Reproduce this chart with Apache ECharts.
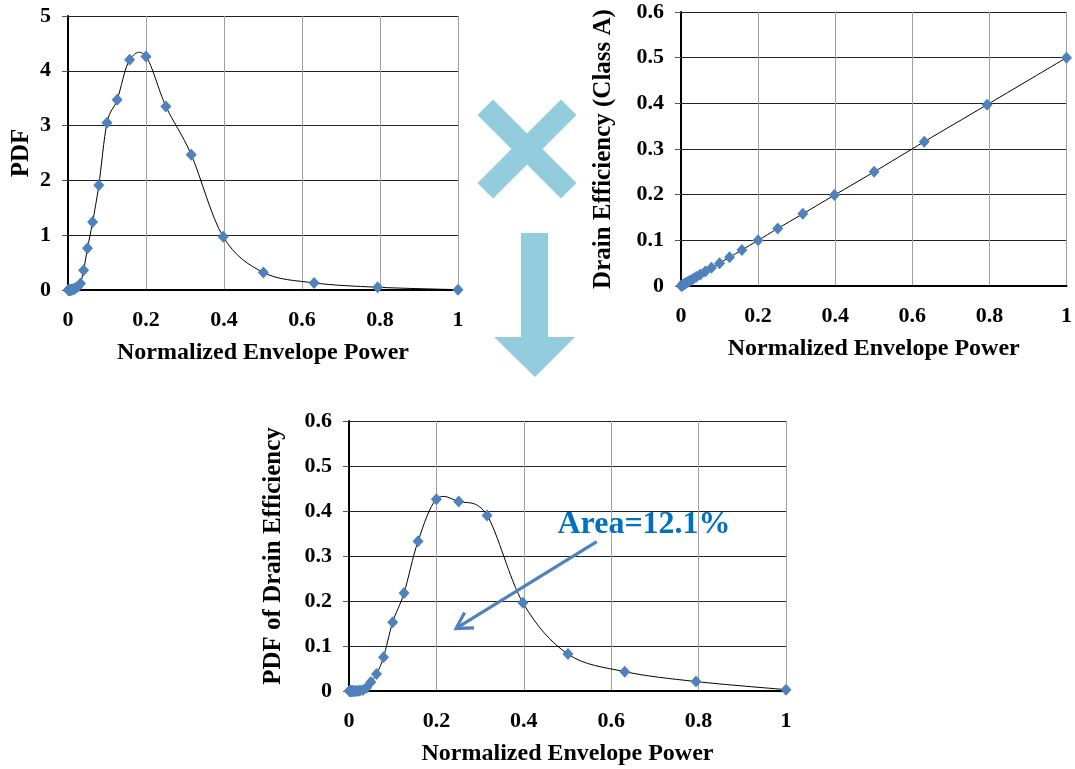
<!DOCTYPE html>
<html>
<head>
<meta charset="utf-8">
<script src="https://cdn.jsdelivr.net/npm/echarts@6/dist/echarts.min.js"></script>
<style>
  html, body { margin: 0; padding: 0; background: #fff; }
  #chart { width: 1075px; height: 769px; }
</style>
</head>
<body>
<div id="chart"></div>
<script>
// Normalized envelope power samples (1 dB steps)
const power = [0.001, 0.0013, 0.0016, 0.002, 0.0025, 0.003, 0.004, 0.005, 0.006, 0.008,
  0.01, 0.013, 0.016, 0.02, 0.025, 0.032, 0.04, 0.05, 0.063, 0.079,
  0.1, 0.126, 0.158, 0.2, 0.251, 0.316, 0.398, 0.501, 0.631, 0.794, 1];

// PDF of the envelope power
const pdf = [0, 0, 0, 0, 0, 0, 0, 0.001, 0.002, 0.004,
  0.006, 0.012, 0.02, 0.035, 0.06, 0.12, 0.36, 0.76, 1.24, 1.91,
  3.05, 3.47, 4.2, 4.26, 3.35, 2.47, 0.97, 0.32, 0.13, 0.05, 0.006];

// Class A drain efficiency at each power level
const efficiency = [0.0005, 0.0006, 0.0008, 0.001, 0.0013, 0.0016, 0.002, 0.0025, 0.003, 0.004,
  0.005, 0.0065, 0.008, 0.01, 0.0125, 0.016, 0.02, 0.025, 0.032, 0.04,
  0.05, 0.063, 0.079, 0.1, 0.126, 0.158, 0.199, 0.25, 0.316, 0.397, 0.5];

// PDF weighted by drain efficiency
const pdfEfficiency = [0, 0, 0, 0, 0, 0, 0, 0, 0, 0,
  0, 0, 0, 0, 0.001, 0.002, 0.007, 0.02, 0.038, 0.075,
  0.153, 0.218, 0.333, 0.426, 0.421, 0.39, 0.196, 0.082, 0.043, 0.021, 0.003];

const xTitle = 'Normalized Envelope Power';
const yTitles = ['PDF', 'Drain Efficiency (Class A)', 'PDF of Drain Efficiency'];
const annotation = 'Area=12.1%';

const FONT = "'Liberation Serif', 'Times New Roman', serif";
const MARKER = '#4F81BD';
const SHAPE = '#93CDDD';

function pairs(xs, ys) { return xs.map((x, i) => [x, ys[i]]); }

function xAxis(gridIndex) {
  return {
    type: 'value', gridIndex, min: 0, max: 1, interval: 0.2,
    name: xTitle, nameLocation: 'middle', nameGap: 51,
    nameTextStyle: { fontFamily: FONT, fontWeight: 'bold', fontSize: 24, color: '#000' },
    axisLine: { show: true, onZero: false, lineStyle: { color: '#000', width: 2 } },
    axisTick: { show: false },
    axisLabel: { fontFamily: FONT, fontWeight: 'bold', fontSize: 22, color: '#000', margin: 19 },
    splitLine: { show: true, lineStyle: { color: '#a0a0a0', width: 1 } }
  };
}

function yAxis(gridIndex, max, interval, gap) {
  return {
    type: 'value', gridIndex, min: 0, max, interval,
    name: yTitles[gridIndex], nameLocation: 'middle', nameGap: gap,
    nameTextStyle: { fontFamily: FONT, fontWeight: 'bold', fontSize: 25, color: '#000' },
    axisLine: { show: true, lineStyle: { color: '#000', width: 2 } },
    axisTick: { show: true, length: 6, lineStyle: { color: '#555', width: 1 } },
    axisLabel: { fontFamily: FONT, fontWeight: 'bold', fontSize: 22, color: '#000', margin: 17 },
    splitLine: { show: true, lineStyle: { color: '#222', width: 1 } }
  };
}

// Smoothed curve through the points (cubic Bezier, Catmull-Rom tangents in pixel space)
function curveSeries(i, xs, ys) {
  return {
    type: 'custom', xAxisIndex: i, yAxisIndex: i, data: pairs(xs, ys), z: 2, silent: true,
    renderItem(params, api) {
      if (params.dataIndex !== 0) return null;
      const p = xs.map((x, k) => api.coord([x, ys[k]]));
      let d = 'M' + p[0][0] + ' ' + p[0][1];
      for (let k = 0; k < p.length - 1; k++) {
        const p0 = p[Math.max(k - 1, 0)], p1 = p[k], p2 = p[k + 1], p3 = p[Math.min(k + 2, p.length - 1)];
        const c1 = [p1[0] + (p2[0] - p0[0]) / 6, p1[1] + (p2[1] - p0[1]) / 6];
        const c2 = [p2[0] - (p3[0] - p1[0]) / 6, p2[1] - (p3[1] - p1[1]) / 6];
        d += ' C' + c1[0] + ' ' + c1[1] + ' ' + c2[0] + ' ' + c2[1] + ' ' + p2[0] + ' ' + p2[1];
      }
      return { type: 'path', shape: { pathData: d }, style: { stroke: '#000', lineWidth: 1, fill: null } };
    }
  };
}

function markerSeries(i, xs, ys) {
  return {
    type: 'scatter', xAxisIndex: i, yAxisIndex: i, data: pairs(xs, ys), z: 3,
    symbol: 'diamond', symbolSize: [11, 12], itemStyle: { color: MARKER, opacity: 1 }
  };
}

const chart = echarts.init(document.getElementById('chart'));
chart.setOption({
  animation: false,
  backgroundColor: '#fff',
  grid: [
    { left: 68, top: 16, width: 390, height: 274 },
    { left: 681, top: 12, width: 386, height: 274 },
    { left: 349, top: 421, width: 437, height: 270 }
  ],
  xAxis: [xAxis(0), xAxis(1), xAxis(2)],
  yAxis: [yAxis(0, 5, 1, 34), yAxis(1, 0.6, 0.1, 65), yAxis(2, 0.6, 0.1, 63)],
  series: [
    curveSeries(0, power, pdf), markerSeries(0, power, pdf),
    curveSeries(1, power, efficiency), markerSeries(1, power, efficiency),
    curveSeries(2, power, pdfEfficiency), markerSeries(2, power, pdfEfficiency)
  ]
});

// Annotation arrow placed in the data space of the lower chart
const start = chart.convertToPixel({ gridIndex: 2 }, [0.567, 0.332]);
const tip = chart.convertToPixel({ gridIndex: 2 }, [0.245, 0.139]);
const dx = start[0] - tip[0], dy = start[1] - tip[1];
const len = Math.hypot(dx, dy);
const ux = dx / len, uy = dy / len;
const head = 18, ang = Math.PI / 6;
function rot(a) {
  return [tip[0] + head * (ux * Math.cos(a) - uy * Math.sin(a)),
          tip[1] + head * (ux * Math.sin(a) + uy * Math.cos(a))];
}
const textPos = chart.convertToPixel({ gridIndex: 2 }, [0.477, 0.37]);

chart.setOption({
  graphic: [
    // multiplication sign between the two upper charts
    { type: 'rect', x: 527, y: 149, rotation: Math.PI / 4,
      shape: { x: -59, y: -11, width: 118, height: 22 }, style: { fill: SHAPE } },
    { type: 'rect', x: 527, y: 149, rotation: -Math.PI / 4,
      shape: { x: -59, y: -11, width: 118, height: 22 }, style: { fill: SHAPE } },
    // downward arrow into the lower chart
    { type: 'polygon',
      shape: { points: [[521, 233], [548, 233], [548, 337], [575, 337], [535, 377], [494, 337], [521, 337]] },
      style: { fill: SHAPE } },
    // area callout
    { type: 'line', shape: { x1: start[0], y1: start[1], x2: tip[0], y2: tip[1] },
      style: { stroke: MARKER, lineWidth: 3.2 }, z: 10 },
    { type: 'polyline', shape: { points: [rot(ang), tip, rot(-ang)] },
      style: { stroke: MARKER, lineWidth: 3.2, fill: null, lineJoin: 'miter' }, z: 10 },
    { type: 'text', x: textPos[0], y: textPos[1], z: 10,
      style: { text: annotation, fill: '#0070C0', font: "bold 32px 'Liberation Serif', 'Times New Roman', serif",
               align: 'left', verticalAlign: 'middle' } }
  ]
});
</script>
</body>
</html>
